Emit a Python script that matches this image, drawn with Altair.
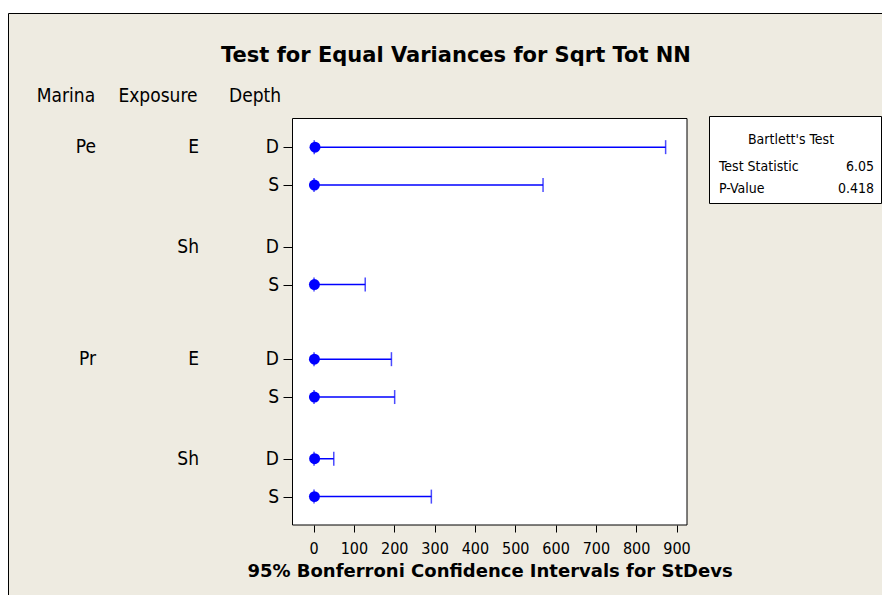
import altair as alt
import pandas as pd

# ---- data ----
marina = ["Pe", "Pe", "Pe", "Pe", "Pr", "Pr", "Pr", "Pr"]
exposure = ["E", "E", "Sh", "Sh", "E", "E", "Sh", "Sh"]
depth = ["D", "S", "D", "S", "D", "S", "D", "S"]
stdev = [3.5, 2.0, None, 2.0, 2.0, 2.0, 2.5, 2.0]
lower = [1.5, 1.0, None, 1.0, 1.0, 1.0, 1.0, 1.0]
upper = [873, 569, None, 128, 193, 201, 50, 292]
x_ticks = [0, 100, 200, 300, 400, 500, 600, 700, 800, 900]
stat_labels = ["Test Statistic", "P-Value"]
stat_values = ["6.05", "0.418"]

# row layout: gaps between exposure groups and marinas
pos = []
p = 0.0
for i in range(len(depth)):
    if i > 0:
        if marina[i] != marina[i - 1]:
            p += 1.97
        elif exposure[i] != exposure[i - 1]:
            p += 1.63
        else:
            p += 1.0
    pos.append(round(p, 3))

df = pd.DataFrame({"marina": marina, "exposure": exposure, "depth": depth,
                   "stdev": stdev, "lower": lower, "upper": upper, "pos": pos})
df_m = df.drop_duplicates("marina")
df_e = df.drop_duplicates(["marina", "exposure"])
one = pd.DataFrame({"a": [0]})

W, H = 395, 407
BG = "#EEEBE1"
BLUE = "#0000FF"
FONT = "DejaVu Sans"
CFONT = "DejaVu Sans Condensed"

xs = alt.Scale(domain=[-53.6, 926], nice=False, zero=False)
ys = alt.Scale(domain=[pos[-1] + 0.75, -0.77], nice=False, zero=False)

X = alt.X("lower:Q", scale=xs,
          axis=alt.Axis(values=x_ticks, tickSize=7, grid=False, domain=False,
                        labelFontSize=16, labelFont=CFONT, labelColor="black",
                        tickColor="black", labelPadding=8, zindex=2,
                        title="95% Bonferroni Confidence Intervals for StDevs",
                        titleFont=FONT, titleFontSize=18, titleFontWeight="bold",
                        titleColor="black", titlePadding=6))
Y = alt.Y("pos:Q", scale=ys,
          axis=alt.Axis(values=pos, labels=False, tickSize=9, grid=False,
                        domain=False, title=None, tickColor="black", zindex=2))

frame = alt.Chart(one).mark_rect(fill=BG, stroke="black", strokeWidth=1).encode(
    x=alt.value(-283.5), x2=alt.value(800), y=alt.value(-104.5), y2=alt.value(700))
plotbox = alt.Chart(one).mark_rect(fill="white", stroke="black", strokeWidth=1).encode(
    x=alt.value(0.5), x2=alt.value(W), y=alt.value(0.5), y2=alt.value(H))

rule = alt.Chart(df).mark_rule(color=BLUE, strokeWidth=1.5).encode(
    x=X, x2="upper:Q", y=Y)
tick_up = alt.Chart(df).mark_point(shape="M0,-1L0,1", size=196, color=BLUE,
                                   strokeWidth=1.5, filled=False).encode(
    x=alt.X("upper:Q", scale=xs), y=alt.Y("pos:Q", scale=ys))
tick_lo = alt.Chart(df).mark_point(shape="M0,-1L0,1", size=196, color=BLUE,
                                   strokeWidth=1.5, filled=False).encode(
    x=alt.X("lower:Q", scale=xs), y=alt.Y("pos:Q", scale=ys))
dots = alt.Chart(df).mark_circle(size=120, color=BLUE, opacity=1).encode(
    x=alt.X("stdev:Q", scale=xs), y=alt.Y("pos:Q", scale=ys))

lab_d = alt.Chart(df).mark_text(align="right", baseline="middle", font=CFONT,
                                fontSize=19, color="black").encode(
    x=alt.value(-13), y=alt.Y("pos:Q", scale=ys), text="depth:N")
lab_m = alt.Chart(df_m).mark_text(align="right", baseline="middle", font=CFONT,
                                  fontSize=19, color="black").encode(
    x=alt.value(-196), y=alt.Y("pos:Q", scale=ys), text="marina:N")
lab_e = alt.Chart(df_e).mark_text(align="right", baseline="middle", font=CFONT,
                                  fontSize=19, color="black").encode(
    x=alt.value(-93), y=alt.Y("pos:Q", scale=ys), text="exposure:N")

def txt(s, x, y, size=19, weight="normal", align="center", font=CFONT):
    return alt.Chart(one).mark_text(text=s, font=font, fontSize=size,
                                    fontWeight=weight, align=align,
                                    baseline="middle", color="black").encode(
        x=alt.value(x), y=alt.value(y))

headers = [txt("Marina", -226, -22), txt("Exposure", -134, -22),
           txt("Depth", -37, -22)]
title = txt("Test for Equal Variances for Sqrt Tot NN", 164, -62, size=21,
            weight="bold", font=FONT)

legbox = alt.Chart(one).mark_rect(fill="white", stroke="black", strokeWidth=1).encode(
    x=alt.value(417.5), x2=alt.value(589.5), y=alt.value(-1.5), y2=alt.value(85.5))
leg = [txt("Bartlett's Test", 499, 22, size=14),
       txt(stat_labels[0], 427, 49, size=14, align="left"),
       txt(stat_values[0], 582, 49, size=14, align="right"),
       txt(stat_labels[1], 427, 71, size=14, align="left"),
       txt(stat_values[1], 582, 71, size=14, align="right")]

chart = alt.layer(frame, plotbox, rule, tick_up, tick_lo, dots, lab_d, lab_m,
                  lab_e, *headers, title, legbox, *leg).properties(
    width=W, height=H,
    autosize=alt.AutoSizeParams(type="none"),
    padding={"left": 284, "top": 110, "right": 195, "bottom": 70},
    background="white",
).configure_view(strokeWidth=0)

chart.save("out.html", embed_options={"renderer": "svg", "actions": False})
